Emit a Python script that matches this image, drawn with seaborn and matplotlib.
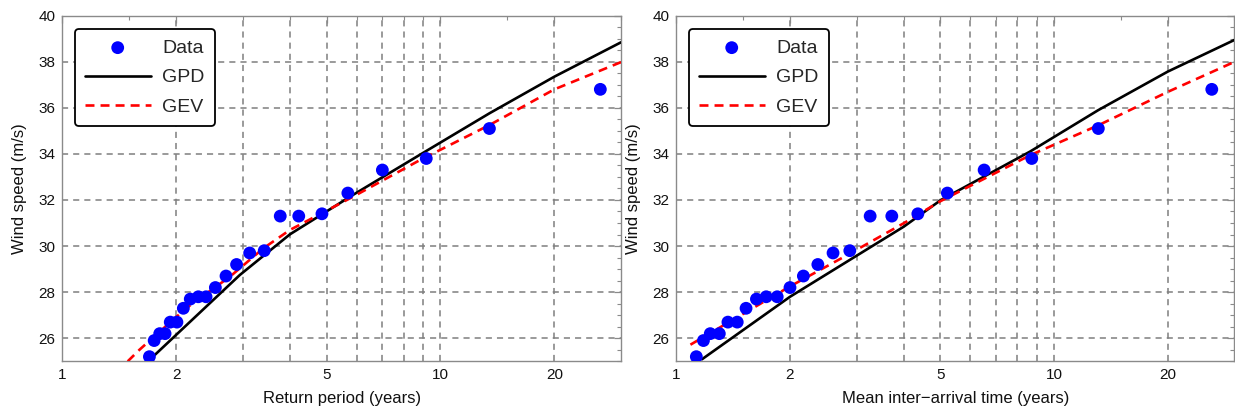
import matplotlib
matplotlib.use("Agg")
import matplotlib.pyplot as plt
from matplotlib.ticker import FixedLocator, FixedFormatter, NullFormatter
import numpy as np
import seaborn as sns

# ---- data ----
wind_speed = [25.2, 25.9, 26.2, 26.2, 26.7, 26.7, 27.3, 27.7, 27.8, 27.8, 28.2, 28.7,
              29.2, 29.7, 29.8, 31.3, 31.3, 31.4, 32.3, 33.3, 33.8, 35.1, 36.8]

# left panel: return period (years)
return_period = [1.70, 1.75, 1.81, 1.87, 1.93, 2.01, 2.09, 2.18, 2.29, 2.40, 2.54, 2.71,
                 2.89, 3.13, 3.42, 3.77, 4.22, 4.86, 5.69, 7.02, 9.17, 13.47, 26.46]
gpd_rp = [1.75, 2.95, 4.00, 5.87, 8.80, 13.47, 20.0, 30.0]
gpd_rp_ws = [25.25, 28.75, 30.51, 32.22, 33.95, 35.76, 37.35, 38.84]
gev_rp = [1.49, 1.60, 2.00, 2.20, 2.77, 3.40, 4.00, 5.87, 8.80, 13.47, 20.0, 30.0]
gev_rp_ws = [25.0, 25.5, 26.92, 27.49, 28.66, 29.90, 30.70, 32.14, 33.72, 35.25, 36.80, 37.98]

# right panel: mean inter-arrival time (years)
inter_arrival = [1.13, 1.18, 1.23, 1.30, 1.37, 1.45, 1.53, 1.63, 1.73, 1.85, 2.00, 2.17,
                 2.37, 2.60, 2.88, 3.26, 3.72, 4.36, 5.22, 6.53, 8.73, 13.1, 26.16]
gpd_ia = [1.17, 2.00, 2.88, 4.00, 5.02, 8.64, 13.1, 20.0, 30.0]
gpd_ia_ws = [25.09, 27.80, 29.40, 30.84, 32.0, 34.10, 35.90, 37.57, 38.94]
gev_ia = [1.09, 2.00, 2.80, 4.00, 5.02, 8.64, 13.1, 20.0, 30.0]
gev_ia_ws = [25.72, 28.25, 29.56, 30.99, 31.96, 33.94, 35.24, 36.69, 37.99]

# ---- axis ticks / grid ----
x_major = [1, 2, 5, 10, 20]
x_major_labels = ["1", "2", "5", "10", "20"]
x_minor = [1.5, 3, 4, 6, 7, 8, 9, 15, 30]
x_grid = [2, 3, 4, 5, 6, 7, 8, 9, 10, 20]
y_major = [26, 28, 30, 32, 34, 36, 38, 40]
y_minor = np.arange(25, 40.01, 0.5)
y_grid = [26, 28, 30, 32, 34, 36, 38]

GRID_COLOR = "#7f7f7f"
FRAME_COLOR = "#8a8a8a"

sns.set_theme(style="white")
plt.rcParams["font.family"] = ["Liberation Sans", "DejaVu Sans"]


def draw_panel(ax, t_data, t_gpd, w_gpd, t_gev, w_gev, xlabel):
    ax.set_xscale("log")

    # dashed grid
    for g in x_grid:
        ax.axvline(g, color=GRID_COLOR, lw=1.1, ls=(0, (4, 3.3)), zorder=0)
    for g in y_grid:
        ax.axhline(g, color=GRID_COLOR, lw=1.1, ls=(0, (4, 3.3)), zorder=0)

    sns.lineplot(x=t_gpd, y=w_gpd, color="black", lw=1.9, ax=ax,
                 label="GPD", zorder=3, sort=False, estimator=None)
    sns.lineplot(x=t_gev, y=w_gev, color="#ff0000", lw=1.9, ls=(0, (3.4, 2.3)),
                 ax=ax, label="GEV", zorder=4, sort=False, estimator=None)
    sns.scatterplot(x=t_data, y=wind_speed, color="#0000ff", s=85,
                    edgecolor="none", ax=ax, label="Data", zorder=5)

    ax.set_xlim(1, 30)
    ax.set_ylim(25, 40)

    ax.xaxis.set_major_locator(FixedLocator(x_major))
    ax.xaxis.set_major_formatter(FixedFormatter(x_major_labels))
    ax.xaxis.set_minor_locator(FixedLocator(x_minor))
    ax.xaxis.set_minor_formatter(NullFormatter())
    ax.yaxis.set_major_locator(FixedLocator(y_major))
    ax.yaxis.set_minor_locator(FixedLocator(y_minor))

    ax.tick_params(which="both", direction="in", top=True, right=True,
                   color=FRAME_COLOR, labelsize=11, labelcolor="#111111")
    ax.tick_params(which="major", length=5, width=0.9, pad=5)
    ax.tick_params(which="minor", length=2.8, width=0.8)
    for sp in ax.spines.values():
        sp.set_color(FRAME_COLOR)
        sp.set_linewidth(1.0)

    ax.set_xlabel(xlabel, fontsize=12, labelpad=6, color="#111111")
    ax.set_ylabel("Wind speed (m/s)", fontsize=12, labelpad=8, color="#111111")

    handles, labels = ax.get_legend_handles_labels()
    order = [labels.index(k) for k in ["Data", "GPD", "GEV"]]
    leg = ax.legend([handles[i] for i in order], [labels[i] for i in order],
                    loc="upper left", bbox_to_anchor=(0.0227, 0.960),
                    borderaxespad=0, fontsize=14, handlelength=3.4,
                    handletextpad=0.6, labelspacing=0.62, borderpad=0.5,
                    frameon=True, fancybox=True, framealpha=1, scatterpoints=1)
    leg.get_frame().set_edgecolor("black")
    leg.get_frame().set_linewidth(1.3)
    leg.set_zorder(10)


fig = plt.figure(figsize=(12.35, 4.16), dpi=100)
ax_left = fig.add_axes([0.0504, 0.1315, 0.4524, 0.831])
ax_right = fig.add_axes([0.5476, 0.1315, 0.4518, 0.831])

draw_panel(ax_left, return_period, gpd_rp, gpd_rp_ws, gev_rp, gev_rp_ws,
           "Return period (years)")
draw_panel(ax_right, inter_arrival, gpd_ia, gpd_ia_ws, gev_ia, gev_ia_ws,
           "Mean inter\u2212arrival time (years)")

fig.savefig("out.png", dpi=100)
plt.close(fig)
